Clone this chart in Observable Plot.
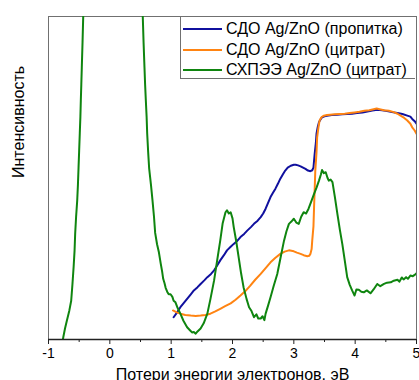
<!DOCTYPE html>
<html><head><meta charset="utf-8">
<script src="https://cdn.jsdelivr.net/npm/d3@7"></script>
<script src="https://cdn.jsdelivr.net/npm/@observablehq/plot@0.6"></script>
<style>
html,body{margin:0;padding:0;background:#fff;}
#wrap{position:relative;width:419px;height:380px;overflow:hidden;font-family:"Liberation Sans",Arial,sans-serif;}
#legend{position:absolute;left:180px;top:16px;width:235px;height:63px;border:1px solid #707070;border-right:none;background:#fff;box-sizing:border-box;}
.row{position:absolute;left:2px;height:20px;display:flex;align-items:center;font-size:16px;color:#000;white-space:nowrap;}
.row span.sw{display:inline-block;width:39px;height:2px;margin-right:4px;}
</style></head>
<body><div id="wrap"><div id="legend"></div></div>
<script>
const seriesNames = ["СДО Ag/ZnO (пропитка)", "СДО Ag/ZnO (цитрат)", "СХПЭЭ Ag/ZnO (цитрат)"];
const seriesColors = ["#10109e", "#ff8412", "#0f850f"];
const xTicks = [-1, 0, 1, 2, 3, 4, 5];
const xMinorTicks = [-0.5, 0.5, 1.5, 2.5, 3.5, 4.5];
const xLabel = "Потери энергии электронов, эВ";
const yLabel = "Интенсивность";

// СДО Ag/ZnO (пропитка)
const blueX = [1.04,1.10,1.15,1.21,1.26,1.32,1.37,1.43,1.48,1.54,1.59,1.65,1.70,1.75,1.80,1.86,1.91,1.97,2.02,2.08,2.13,2.19,2.24,2.30,2.35,2.41,2.46,2.50,2.54,2.58,2.62,2.66,2.70,2.74,2.78,2.82,2.86,2.90,2.95,3.00,3.03,3.07,3.11,3.15,3.19,3.23,3.27,3.30,3.32,3.34,3.36,3.37,3.39,3.41,3.44,3.46,3.50,3.54,3.62,3.71,3.79,3.87,3.95,4.03,4.12,4.20,4.28,4.36,4.44,4.52,4.60,4.69,4.77,4.85,4.90,4.93,4.97,5.0];
const blueY = [6.9,8.5,10.0,11.4,12.6,14.0,15.2,16.2,17.2,18.3,19.3,20.3,21.4,22.9,24.5,26.1,27.6,28.7,29.6,30.6,31.7,32.7,33.7,34.8,35.8,36.8,37.9,39.0,40.5,42.3,44.1,45.4,46.7,48.2,49.8,51.1,52.3,53.2,53.8,54.1,54.1,53.9,53.6,53.2,52.8,52.3,52.1,52.4,53.2,57.5,61.0,63.7,65.8,67.3,68.3,68.8,69.1,69.3,69.5,69.6,69.7,69.8,69.9,70.1,70.3,70.6,70.9,71.1,71.0,70.7,70.4,70.1,69.8,69.3,69.0,68.3,67.6,66.8];

// СДО Ag/ZnO (цитрат)
const orangeX = [1.03,1.09,1.15,1.23,1.32,1.40,1.48,1.56,1.64,1.72,1.80,1.88,1.97,2.05,2.13,2.21,2.29,2.37,2.46,2.54,2.62,2.70,2.78,2.85,2.92,3.00,3.05,3.11,3.16,3.22,3.25,3.27,3.29,3.30,3.32,3.33,3.34,3.35,3.37,3.38,3.40,3.42,3.45,3.49,3.54,3.59,3.67,3.75,3.83,3.91,3.99,4.07,4.15,4.23,4.30,4.35,4.40,4.47,4.55,4.63,4.69,4.74,4.80,4.85,4.90,4.93,4.97,5.0];
const orangeY = [9.0,8.4,8.0,7.6,7.4,7.3,7.4,7.6,8.0,8.7,9.5,10.3,11.2,12.3,13.6,15.0,16.7,18.5,20.3,22.1,23.9,25.3,26.5,27.2,27.6,27.3,26.9,26.5,26.1,25.8,25.9,26.5,28.0,30.6,35.0,41.0,46.5,52.3,58.0,62.6,65.5,67.8,68.8,69.3,69.5,69.6,69.7,69.8,69.9,70.1,70.3,70.5,70.8,71.0,71.3,71.5,71.3,71.0,70.8,70.4,69.9,69.3,68.6,67.8,66.8,65.7,64.7,63.7];

// СХПЭЭ Ag/ZnO (цитрат)
const greenX = [-0.79,-0.76,-0.73,-0.70,-0.66,-0.63,-0.61,-0.59,-0.575,-0.565,-0.55,-0.532,-0.52,-0.51,-0.50,-0.49,-0.48,-0.473,-0.465,-0.457,-0.445,-0.434,-0.42,
  0.53,0.537,0.55,0.565,0.575,0.587,0.60,0.609,0.625,0.641,0.67,0.696,0.72,0.739,0.77,0.80,0.83,0.853,0.87,0.891,0.91,0.935,0.96,0.99,1.02,1.04,1.07,1.10,1.15,1.20,1.26,1.31,1.34,1.37,1.40,1.43,1.48,1.53,1.59,1.64,1.70,1.75,1.80,1.84,1.886,1.91,1.94,1.97,2.00,2.02,2.06,2.10,2.14,2.18,2.23,2.27,2.31,2.35,2.39,2.42,2.46,2.49,2.52,2.54,2.58,2.62,2.67,2.73,2.78,2.84,2.88,2.92,2.96,3.00,3.04,3.08,3.12,3.16,3.20,3.24,3.28,3.33,3.37,3.41,3.44,3.46,3.49,3.52,3.55,3.57,3.60,3.63,3.67,3.71,3.75,3.79,3.83,3.87,3.91,3.95,3.99,4.02,4.06,4.10,4.14,4.19,4.25,4.30,4.36,4.41,4.47,4.52,4.58,4.63,4.69,4.72,4.76,4.79,4.83,4.86,4.90,4.94,4.97,5.0];
const greenY = [-3,0.6,3.5,5.9,9.0,12.0,17.0,22.6,27.5,32.8,38.0,43.0,48.0,53.3,58.5,63.8,69.0,74.0,79.0,84.2,92.0,100,110,
  110,100,92.0,84.2,79.0,74.0,68.8,63.8,58.0,53.0,48.0,43.0,38.0,33.0,29.5,27.0,23.5,21.0,18.8,17.5,16.0,14.8,14.0,14.0,13.2,12.0,11.5,10.0,8.0,5.8,3.8,2.8,2.2,2.3,1.8,2.5,3.4,5.0,8.0,12.5,18.3,24.5,30.6,36.0,39.4,40.0,39.0,39.4,37.5,34.8,30.5,25.5,20.5,16.2,12.5,10.0,8.8,6.9,7.8,6.5,6.5,7.2,6.0,8.0,10.5,13.1,16.5,20.3,25.0,30.6,33.5,35.8,36.5,37.4,36.2,35.8,38.0,39.4,39.0,40.5,42.5,45.1,47.0,49.2,51.0,52.5,51.5,51.8,50.0,49.2,49.5,48.7,44.0,38.9,34.0,29.6,24.5,19.3,17.0,15.2,13.6,15.5,15.4,14.8,14.6,15.2,14.3,15.5,17.2,16.5,17.2,17.6,17.7,18.2,18.5,17.9,19.2,18.6,19.3,18.8,19.8,19.6,20.0,20.5];

const series = [
  {xs: blueX, ys: blueY},
  {xs: orangeX, ys: orangeY},
  {xs: greenX, ys: greenY}
].map((s, i) => s.xs.map((x, j) => ({x, y: s.ys[j], name: seriesNames[i]})));

const chart = Plot.plot({
  width: 419,
  height: 380,
  marginLeft: 48,
  marginRight: 3,
  marginTop: 16,
  marginBottom: 41,
  style: {fontFamily: "'Liberation Sans', Arial, sans-serif", background: "#fff"},
  x: {domain: [-1, 5]},
  y: {domain: [0, 100]},
  color: {domain: seriesNames, range: seriesColors},
  marks: [
    Plot.frame({stroke: "#707070", strokeWidth: 1}),
    ...series.map(d => Plot.line(d, {x: "x", y: "y", stroke: "name", strokeWidth: 2, clip: true})),
    Plot.axisX({ticks: xMinorTicks, tickSize: 3, tickFormat: () => "", stroke: "#222", label: null}),
    Plot.axisX({ticks: xTicks, tickSize: 5, tickPadding: 4, fontSize: 14, tickFormat: d => String(d), stroke: "#222", fill: "#000", label: null}),
    Plot.ruleY([0], {stroke: "#222", strokeWidth: 1.3}),
    Plot.axisY({ticks: [], label: null}),
    Plot.text([xLabel], {frameAnchor: "bottom", dy: 35, fontSize: 16, lineAnchor: "middle", fill: "#000", text: d => d}),
    Plot.text([yLabel], {frameAnchor: "left", dx: -30, rotate: -90, fontSize: 16, lineAnchor: "middle", fill: "#000", text: d => d})
  ]
});
document.getElementById("wrap").prepend(chart);
chart.style.position = "absolute";
chart.style.left = "0";
chart.style.top = "0";

const legend = document.getElementById("legend");
seriesNames.forEach((n, i) => {
  const row = document.createElement("div");
  row.className = "row";
  row.style.top = (2 + i * 20.5) + "px";
  const sw = document.createElement("span");
  sw.className = "sw";
  sw.style.background = seriesColors[i];
  row.appendChild(sw);
  row.appendChild(document.createTextNode(n));
  legend.appendChild(row);
});
</script></body></html>
